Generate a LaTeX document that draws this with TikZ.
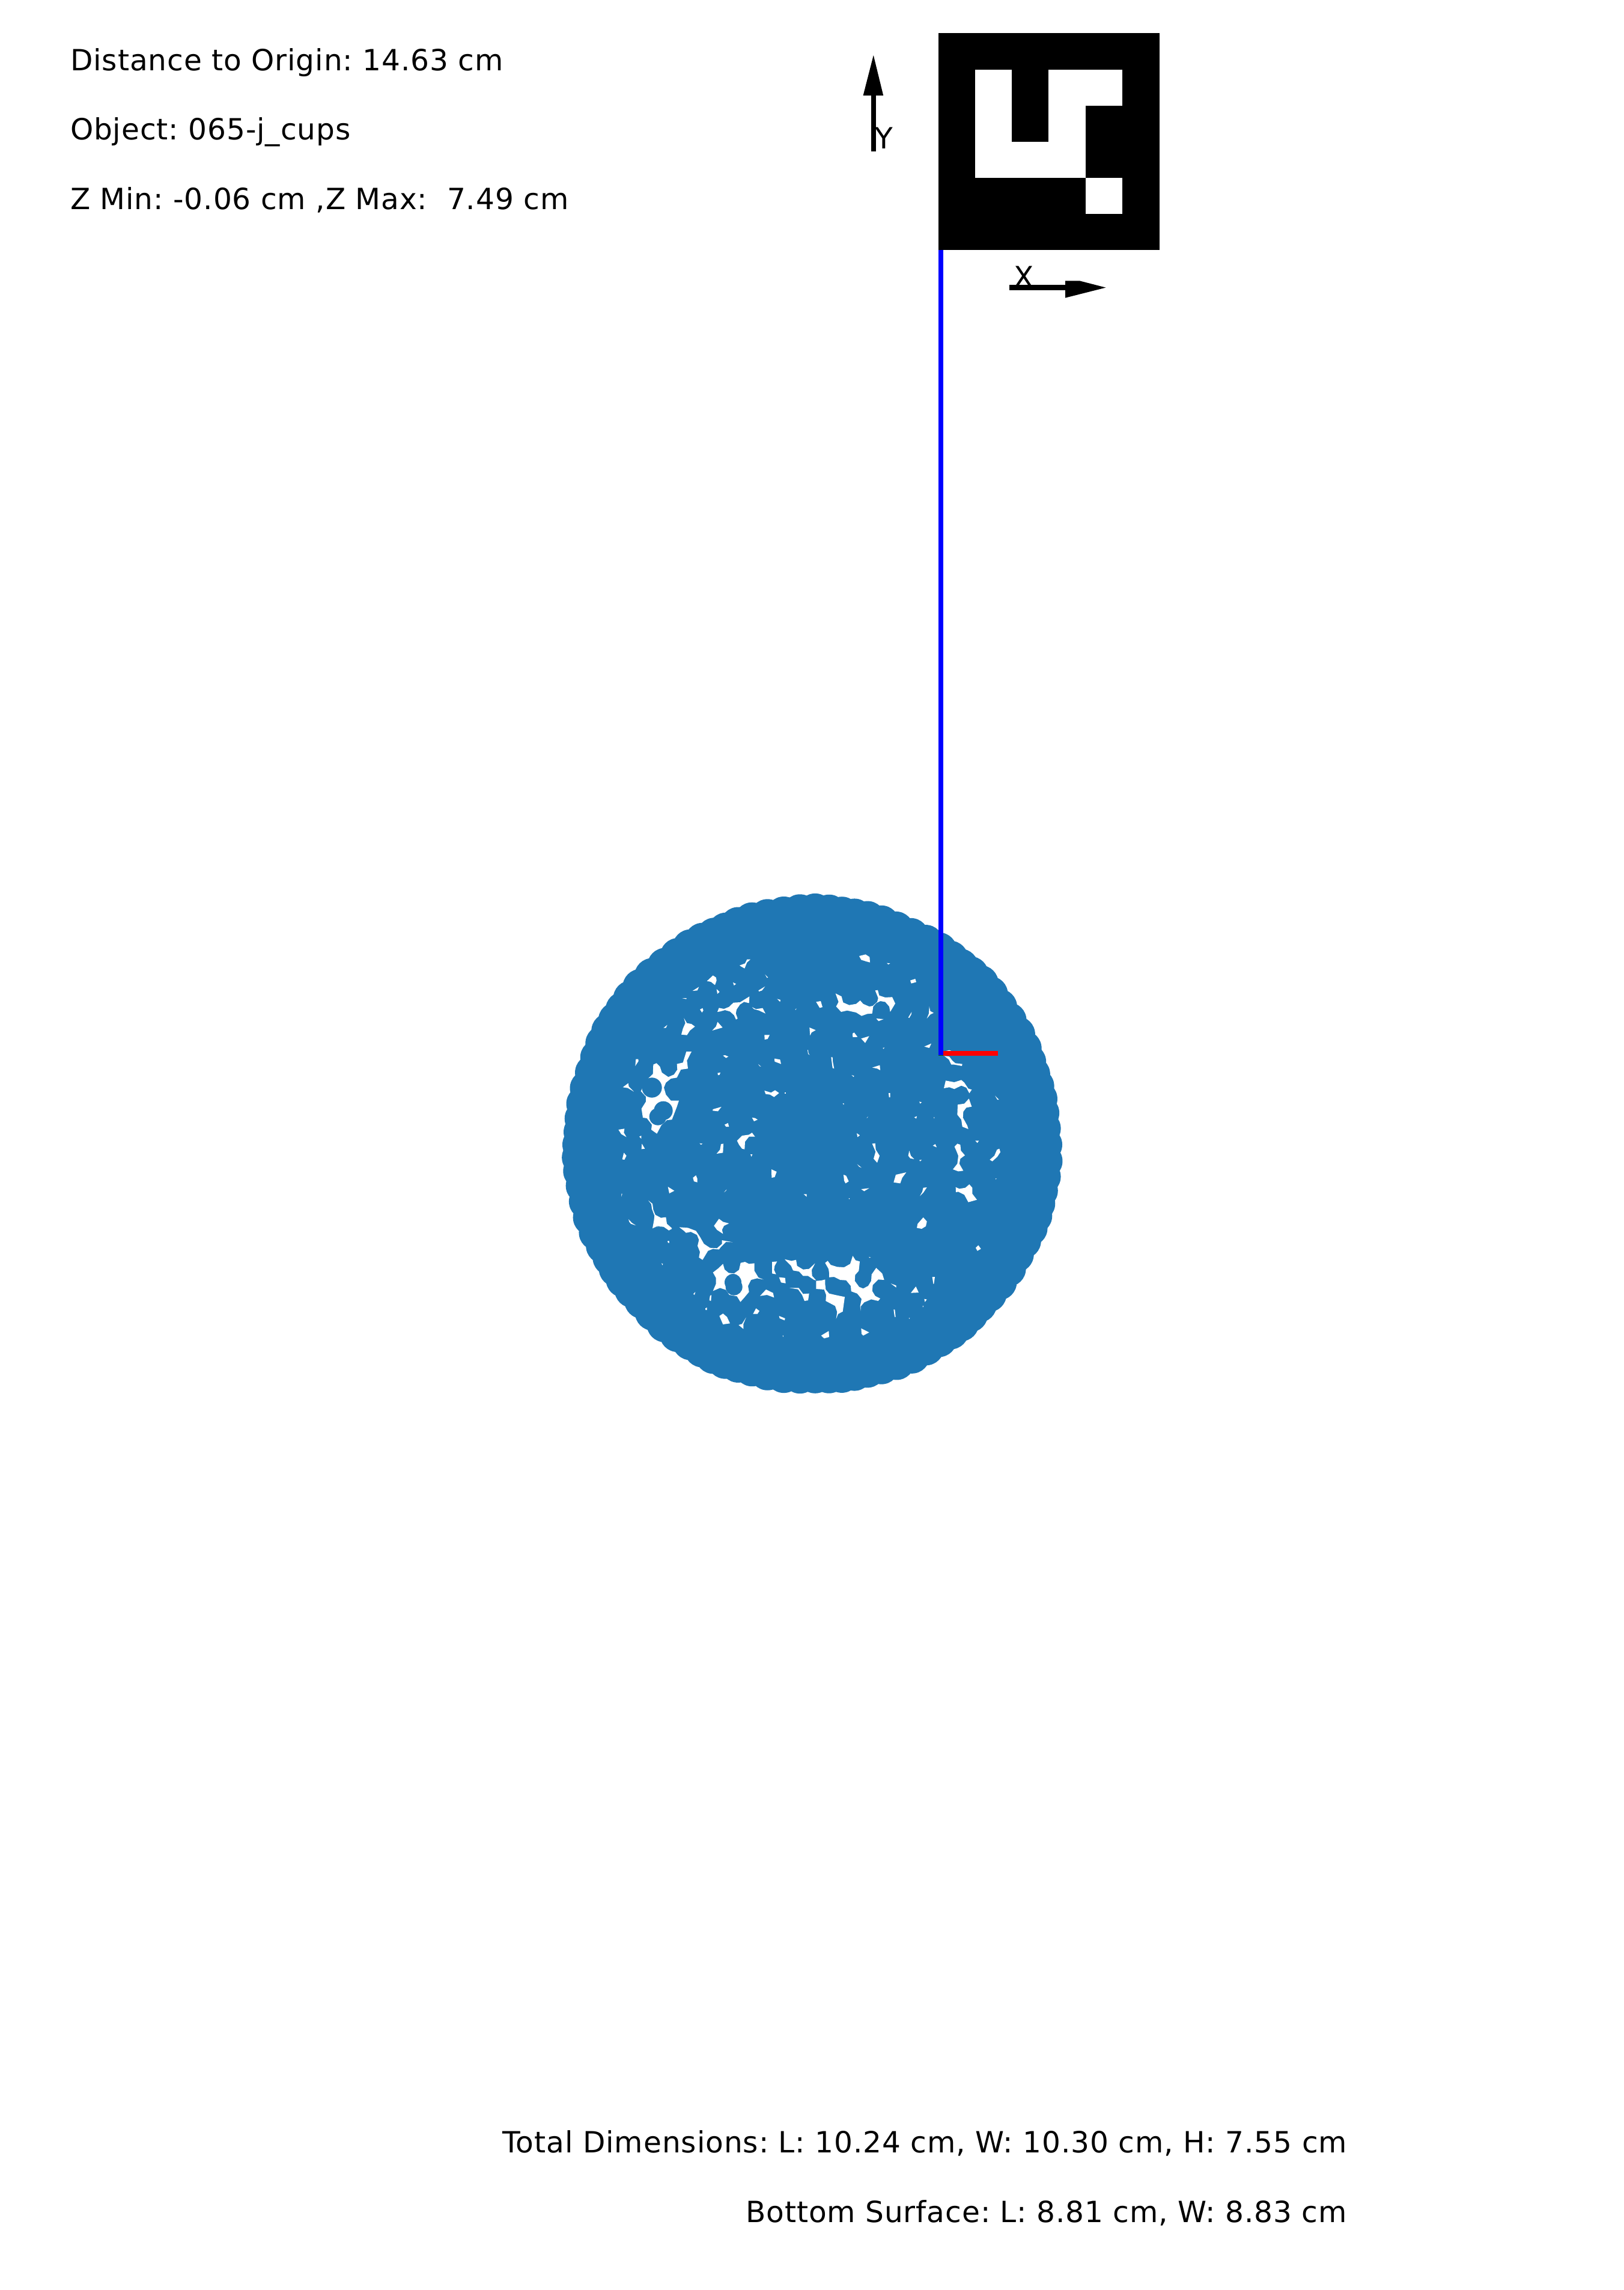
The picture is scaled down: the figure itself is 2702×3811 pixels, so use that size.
\documentclass[tikz,border=0pt]{standalone}
\usepackage{fontspec}
\setmainfont[LetterSpace=1.9]{DejaVu Sans}
\definecolor{ptblue}{HTML}{1F77B4}
\definecolor{axgreen}{HTML}{0B6B0B}
\newcommand\wh[1]{\fill[white] plot coordinates {#1} -- cycle;}
\newcommand\bc[3]{\fill[ptblue] (#1,#2) circle [radius=#3*0.08pt];}
\tikzset{
  cropat/.style 2 args={shift={(#1,#2)},x=0.08pt,y=-0.08pt},
  info/.style={inner sep=0pt,outer sep=0pt,font=\fontsize{11.666}{14}\selectfont\frenchspacing},
}
\begin{document}
\begin{tikzpicture}[x=0.24pt,y=-0.24pt]
\useasboundingbox (0,0) rectangle (2702,3811);
\fill[white] (0,0) rectangle (2702,3811);
% ---- point cloud
\fill[ptblue] (1352,1905) circle [radius=402*0.24pt];
\foreach \a in {0,3.6,...,359}{
  \pgfmathsetmacro{\rr}{386+1.3*sin(7*\a)+0.9*sin(23*\a)}
  \pgfmathsetmacro{\aa}{\a+0.7*sin(11*\a)}
  \fill[ptblue] ({1352+\rr*cos(\aa)},{1905+\rr*sin(\aa)}) circle [radius=30*0.24pt];
}
% ---- holes, crop 4
\begin{scope}[cropat={930}{1580}]
\wh{(740,158)(770,130)(785,140)(788,155)(780,178)(760,162)}
\wh{(870,165)(885,172)(875,180)}
\wh{(668,207)(700,187)(692,205)}
\wh{(788,198)(803,212)(792,222)}
\wh{(615,243)(638,243)(637,248)}
\wh{(705,300)(718,293)(722,305)(715,315)}
\wh{(792,312)(800,292)(825,297)(850,287)(872,266)(905,264)(952,235)(950,268)(925,262)(905,275)(888,300)(884,320)(893,345)(885,350)(875,328)(855,310)(830,303)(805,310)}
\wh{(625,343)(640,368)(662,372)(680,385)(655,405)(640,428)(612,425)(620,395)(632,368)}
\wh{(523,392)(542,377)(535,392)}
\wh{(793,362)(818,390)(790,398)(766,405)(785,385)}
\wh{(820,530)(830,528)(847,535)(835,542)}
\wh{(793,617)(807,615)(803,626)(795,628)}
\wh{(385,548)(397,548)(398,558)(382,582)}
\wh{(770,798)(812,786)(795,808)(768,805)}
\wh{(828,875)(845,867)(850,885)(835,885)}
\wh{(435,655)(470,622)(472,575)(488,568)(505,585)(515,615)(547,637)(575,625)(592,600)(590,572)(620,565)(637,510)(663,510)(640,555)(645,595)(610,600)(590,640)(560,645)(535,665)(525,690)(535,725)(560,755)(600,755)(590,785)(565,850)(540,852)(512,878)(490,920)(462,900)(465,875)(440,843)(420,840)(413,795)(435,760)(435,735)(410,708)}
\bc{465}{690}{50}\bc{522}{805}{47}\bc{495}{835}{43}
\wh{(320,688)(347,668)(350,685)(375,710)(345,692)}
\end{scope}
% ---- crop 5
\begin{scope}[cropat={1230}{1580}]
\wh{(65,288)(85,298)(118,293)(132,320)(100,305)(75,298)}
\wh{(3,80)(30,70)(40,50)(57,50)(40,65)(28,95)(10,85)}
\wh{(130,125)(145,140)(140,142)}
\wh{(97,205)(130,185)(115,205)(100,210)}
\wh{(190,247)(207,252)(205,262)}
\wh{(385,262)(408,258)(417,288)(403,292)}
\wh{(280,300)(287,295)(283,302)}
\wh{(482,220)(512,235)(520,265)(550,278)(585,272)(605,255)(620,272)(650,285)(668,282)(690,262)(695,243)(680,205)(693,203)(700,230)(730,240)(765,238)(780,270)(755,312)(750,285)(730,262)(705,258)(685,268)(670,285)(665,320)(640,322)(612,332)(585,315)(540,305)(510,312)(485,285)(497,262)}
\wh{(685,345)(722,348)(697,358)}
\wh{(855,155)(880,147)(885,163)(860,170)}
\wh{(845,340)(862,312)(860,325)(850,342)}
\wh{(600,33)(632,25)(652,38)(654,65)(635,60)(610,52)}
\wh{(738,68)(755,70)(745,75)}
\wh{(352,390)(383,403)(362,415)(355,430)}
\wh{(567,420)(575,415)(592,437)(568,438)}
\wh{(610,445)(650,433)(630,467)}
\wh{(127,427)(153,427)(143,447)(128,450)}
\wh{(342,502)(345,502)(347,518)(353,527)(345,522)}
\wh{(177,545)(205,550)(210,572)(178,560)}
\wh{(460,538)(467,538)(468,558)(475,595)(467,592)}
\wh{(96,573)(110,585)(103,583)}
\wh{(665,590)(703,578)(705,603)(690,595)}
\wh{(562,627)(575,632)(572,637)}
\wh{(718,492)(726,490)(722,497)}
\wh{(127,705)(160,715)(180,703)(200,717)(175,737)(155,725)(133,722)}
\wh{(747,717)(755,717)(755,738)(749,738)}
\wh{(228,715)(233,715)(233,720)(228,720)}
\wh{(518,768)(525,770)(522,776)}
\wh{(65,840)(80,842)(93,850)(75,858)}
\wh{(640,838)(645,835)(638,843)}
\wh{(875,838)(888,833)(885,845)}
\end{scope}
% ---- crop 6
\begin{scope}[cropat={1530}{1580}]
\wh{(50,285)(55,308)(72,317)(55,325)(38,345)(48,320)}
\wh{(25,485)(60,470)(50,492)}
\wh{(120,510)(150,503)(163,508)(165,520)(120,520)}
\wh{(125,532)(150,535)(165,555)(180,568)(215,572)(213,582)(175,575)(160,575)(148,550)}
\wh{(132,655)(175,663)(210,652)(225,665)(245,695)(262,700)(250,718)(235,690)(210,680)(175,697)(150,688)(123,693)}
\wh{(248,745)(262,785)(235,790)(220,810)(218,840)(240,880)(245,897)(215,885)(210,850)(190,825)(192,775)(225,770)}
\wh{(378,730)(398,750)(390,750)}
\wh{(0,760)(12,763)(5,770)}
\wh{(72,838)(76,838)(75,845)}
\end{scope}
% ---- crop 7
\begin{scope}[cropat={930}{1880}]
\wh{(298,0)(328,-5)(325,15)(338,37)(312,22)}
\wh{(402,35)(412,30)(412,45)}
\wh{(415,70)(430,95)(413,97)}
\wh{(325,115)(338,130)(328,150)(317,148)}
\wh{(703,68)(718,70)(710,75)}
\wh{(810,72)(822,70)(820,115)(788,120)(805,100)}
\wh{(670,240)(685,228)(692,245)(692,263)(675,258)}
\wh{(545,285)(577,305)(552,318)}
\wh{(313,320)(317,320)(313,335)}
\wh{(447,353)(468,370)(472,400)(482,425)(510,440)(535,437)(540,470)(565,492)(550,503)(520,482)(490,482)(468,493)(475,455)(478,430)(465,395)(462,372)}
\wh{(348,447)(365,465)(385,478)(360,470)(352,460)}
\wh{(543,557)(550,555)(552,565)(546,565)}
\wh{(825,313)(838,298)(835,305)}
\wh{(775,480)(800,445)(820,460)(850,468)(825,480)(815,500)(820,520)(790,500)}
\end{scope}
% ---- crop 8
\begin{scope}[cropat={1230}{1880}]
\wh{(-10,55)(15,30)(50,25)(65,15)(80,35)(50,35)(30,60)(28,98)(15,95)(0,75)}
\wh{(57,123)(67,123)(62,135)}
\wh{(162,198)(188,210)(178,237)(163,240)}
\wh{(323,322)(338,322)(338,335)}
\wh{(588,18)(603,28)(592,37)}
\wh{(665,70)(680,68)(683,100)(702,130)(690,165)(672,145)(682,110)}
\wh{(590,172)(612,190)(600,185)}
\wh{(522,225)(535,230)(548,258)(532,268)(525,255)}
\wh{(772,263)(783,225)(835,213)(815,240)(805,268)}
\wh{(610,297)(650,292)(625,307)}
\wh{(548,342)(553,342)(550,348)}
\wh{(850,105)(858,130)(875,147)(855,143)(845,130)}
\wh{(165,660)(190,658)(178,680)(175,700)(185,722)(165,718)}
\wh{(228,647)(262,655)(285,650)(290,680)(320,698)(350,695)(380,667)(363,700)(365,730)(385,752)(375,750)(345,730)(320,730)(300,708)(270,703)(260,680)(245,665)}
\wh{(200,737)(230,740)(233,767)(210,763)}
\wh{(252,790)(298,790)(320,820)(350,818)(345,852)(327,855)(315,825)(295,797)}
\end{scope}
% ---- crop 9
\begin{scope}[cropat={1530}{1880}]
\wh{(68,80)(80,72)(87,88)}
\wh{(280,55)(298,55)(290,66)}
\wh{(176,85)(190,70)(205,75)(208,105)(228,128)(205,145)(200,170)(220,205)(195,208)(168,198)(190,170)(195,130)(185,105)}
\wh{(352,150)(375,130)(388,100)(400,95)(405,112)(390,135)(365,158)}
\wh{(0,152)(12,150)(5,158)}
\wh{(380,245)(386,243)(382,248)}
\wh{(182,287)(200,295)(230,290)(250,273)(265,290)(265,320)(288,350)(245,362)(225,325)(195,310)(183,312)}
\wh{(20,290)(38,288)(20,315)(3,332)(15,310)}
\wh{(-12,490)(-8,470)(20,438)(38,458)(33,482)(12,495)}
\wh{(282,590)(295,577)(308,595)(290,605)}
\end{scope}
% ---- crop 10
\begin{scope}[cropat={1030}{2040}]
\wh{(168,10)(210,0)(240,0)(265,15)(250,22)(225,5)(195,3)}
\wh{(243,78)(250,75)(252,85)}
\wh{(302,7)(345,10)(385,25)(405,55)(425,90)(455,110)(490,112)(515,90)(515,72)(568,82)(535,80)(510,105)(500,118)(470,115)(445,125)(418,170)(400,158)(405,130)(393,100)(400,70)(390,45)(360,30)(335,35)(325,25)}
\wh{(470,233)(497,212)(520,190)(528,218)(548,235)(575,238)(600,220)(608,185)(630,180)(650,190)(677,187)(677,225)(697,258)(722,268)(690,262)(660,270)(645,300)(650,330)(625,360)(607,380)(590,352)(552,345)(535,320)(505,310)(470,325)(485,290)(485,260)}
\bc{570}{282}{42}\bc{575}{305}{42}
\wh{(455,350)(462,345)(460,375)(452,372)}
\wh{(705,350)(735,318)(770,335)(775,358)(740,345)}
\wh{(670,440)(685,412)(702,425)(692,440)}
\wh{(800,450)(830,462)(828,472)(803,462)}
\wh{(502,450)(520,438)(540,455)(555,487)(520,492)}
\wh{(598,495)(615,490)(635,458)(622,490)(622,515)}
\wh{(372,340)(382,330)(378,345)}
\wh{(432,412)(440,408)(440,420)(433,420)}
\wh{(213,187)(220,190)(218,197)}
\wh{(818,548)(822,548)(820,555)}
\end{scope}
% ---- crop 11
\begin{scope}[cropat={1330}{2040}]
\wh{(130,185)(143,175)(158,195)(190,205)(225,207)(255,190)(268,150)(282,172)(303,178)(298,225)(280,245)(278,275)(300,305)(320,313)(345,300)(360,275)(362,243)(385,210)(415,238)(425,270)(395,268)(368,295)(365,325)(380,350)(405,363)(395,375)(360,367)(325,382)(308,402)(307,425)(305,400)(312,365)(290,338)(260,327)(258,300)(235,272)(205,270)(175,255)(150,257)(150,235)(147,215)}
\wh{(85,275)(110,273)(130,268)(130,290)(133,318)(150,338)(180,345)(228,355)(218,428)(195,440)(185,465)(190,430)(180,400)(133,375)(135,345)(125,318)(85,315)}
\wh{(458,288)(485,298)(485,308)}
\wh{(472,418)(478,418)(482,455)(477,455)}
\wh{(548,460)(553,460)(550,465)}
\wh{(110,548)(148,525)(150,555)(125,562)}
\wh{(310,512)(350,532)(320,548)(312,540)}
\wh{(348,155)(358,158)(352,160)}
\wh{(665,255)(678,255)(673,290)(670,290)}
\wh{(558,335)(583,303)(597,333)}
\wh{(625,365)(638,368)(628,380)}
\wh{(617,400)(622,400)(618,407)}
\end{scope}
% ---- frame axes at the origin
\coordinate (origin) at (1566,1753);
\coordinate (ztop) at (1566,416);
\coordinate (xend) at (1661,1753);
\fill[axgreen] (1562,1755) rectangle (1570,1757);
\draw[blue,line width=8*0.24pt] (ztop) -- (1566,1755.5);
\draw[red,line width=8*0.24pt] (1570,1753) -- (xend);
% ---- marker
\fill[black] (1561.5,55.5) rectangle (1930,416.5);
\fill[white] (1623,116) rectangle (1684,176);
\fill[white] (1623,176) rectangle (1684,296);
\fill[white] (1684,236) rectangle (1745,296);
\fill[white] (1745,116) rectangle (1868,176);
\fill[white] (1745,176) rectangle (1807,296);
\fill[white] (1807,296) rectangle (1868,356);
% ---- image axes arrows
\coordinate (ybase) at (1453.8,252);
\coordinate (yneck) at (1453.8,159);
\coordinate (ytip) at (1453.8,92);
\draw[black,line width=8.5*0.24pt] (ybase) -- (yneck);
\fill[black] (ytip) -- (1470.2,159) -- (1436.6,159) -- cycle;
\coordinate (xbase) at (1680,478.6);
\coordinate (xneck) at (1773,478.6);
\coordinate (xtip) at (1840.5,478.6);
\draw[black,line width=8.5*0.24pt] (xbase) -- (xneck);
\fill[black] (xtip) -- (1797.5,467.5) -- (1773,467.5) -- (1773,495.7) -- cycle;
\node[info,anchor=base west] (ylab) at (1456,248) {Y};
\node[info,anchor=base west] (xlab) at (1687,479) {X};
% ---- texts
\node[info,anchor=base west] (t1) at (117,118) {Distance to Origin: 14.63 cm};
\node[info,anchor=base west] (t2) at (117,233) {Object: 065-j\_cups};
\node[info,anchor=base west] (t3) at (117,349) {Z Min: -0.06 cm ,Z Max:\ \ 7.49 cm};
\node[info,anchor=base east] (t4) at (2242,3582) {Total Dimensions: L: 10.24 cm, W: 10.30 cm, H: 7.55 cm};
\node[info,anchor=base east] (t5) at (2242,3698) {Bottom Surface: L: 8.81 cm, W: 8.83 cm};
\end{tikzpicture}
\end{document}
